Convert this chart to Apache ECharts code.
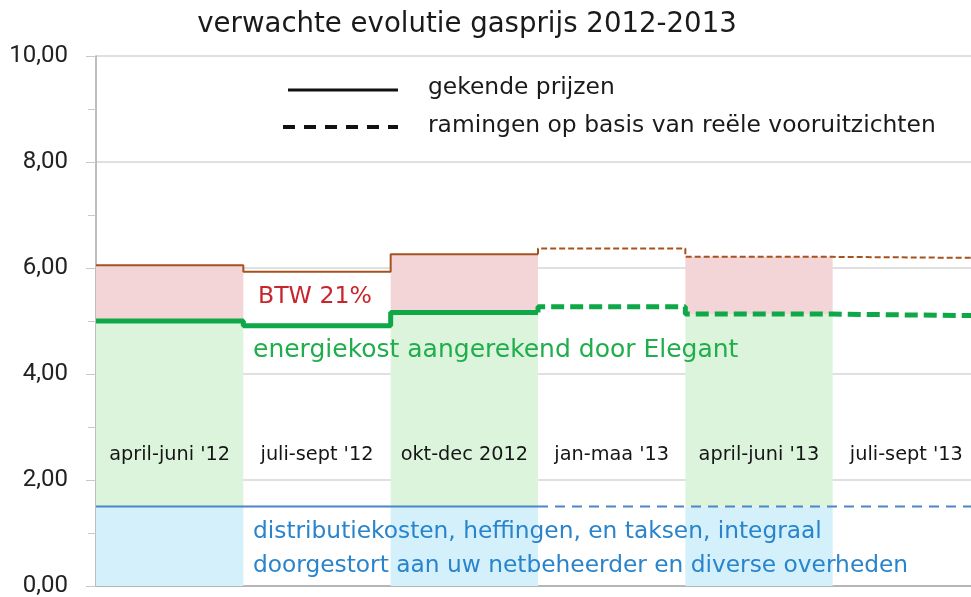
<!DOCTYPE html>
<html>
<head>
<meta charset="utf-8">
<script src="https://cdn.jsdelivr.net/npm/echarts@6/dist/echarts.min.js"></script>
<style>
html,body{margin:0;padding:0;background:#fff;}
#c{width:971px;height:597px;}
</style>
</head>
<body>
<div id="c"></div>
<script>
// ---- data ----
var periods = ["april-juni '12", "juli-sept '12", "okt-dec 2012", "jan-maa '13", "april-juni '13", "juli-sept '13"];
var totalPrice = [6.05, 5.93, 6.26, 6.37, 6.21, 6.19];      // incl. BTW 21%
var energyCost = [5.00, 4.91, 5.16, 5.27, 5.13, 5.10];      // energiekost Elegant
var distCost   = [1.50, 1.50, 1.50, 1.50, 1.50, 1.50];      // distributiekosten e.a.
var knownCount = 3;                                          // first 3 periods known
var shadedPeriods = [0, 2, 4];
var yTicks = [0, 2, 4, 6, 8, 10];

var FONT = '"DejaVu Sans"';
var NUMFONT = 'Roboto';

// font size so that a text gets a given pixel width
var mctx = document.createElement('canvas').getContext('2d');
function fit(text, w, family) {
  mctx.font = '100px ' + (family || FONT);
  return Math.round(100 * w / mctx.measureText(text).width * 10) / 10;
}

function stepPoints(vals, from, to) {
  var pts = [];
  for (var i = from; i < to; i++) {
    pts.push([i, vals[i]]);
    pts.push([i + 1, vals[i]]);
  }
  return pts;
}
function withConnector(vals) {
  var pts = stepPoints(vals, knownCount, vals.length);
  pts.unshift([knownCount, vals[knownCount - 1]]);
  return pts;
}
function shade(fn) {
  return periods.map(function (p, i) {
    return shadedPeriods.indexOf(i) >= 0 ? fn(i) : '-';
  });
}

var chart = echarts.init(document.getElementById('c'), null, {renderer: 'canvas'});

var BROWN = '#a5521f', GREEN = '#0fa848', BLUE = '#4b87c5';

var titleText = 'verwachte evolutie gasprijs 2012-2013';
var legKnown = 'gekende prijzen', legEst = 'ramingen op basis van reële vooruitzichten';
var txtBtw = 'BTW 21%', txtEnergy = 'energiekost aangerekend door Elegant';
var txtDist1 = 'distributiekosten, heffingen, en taksen, integraal';
var txtDist2 = 'doorgestort aan uw netbeheerder en diverse overheden';

var sTitle = fit(titleText, 540);
var sLeg = fit(legEst, 507);
var sEnergy = fit(txtEnergy, 485);
var sBtw = fit(txtBtw, 114);
var sDist = fit(txtDist2, 655);
var sPer = fit(periods[0], 121);

function txt(x, yc, text, size, color, align) {
  return {type: 'text', z: 50, x: x, y: yc,
          style: {text: text, font: size + 'px ' + FONT, fill: color, align: align || 'left',
                  textVerticalAlign: 'middle', verticalAlign: 'middle'}};
}

var option = {
  animation: false,
  textStyle: {fontFamily: FONT},
  grid: {left: 96, top: 56, width: 884, height: 530, outerBoundsMode: 'none', containLabel: false},
  xAxis: [
    {type: 'value', min: 0, max: 6, show: true,
     axisLine: {show: true, onZero: false, lineStyle: {color: '#a8a8a8', width: 1.5}},
     axisTick: {show: false}, axisLabel: {show: false}, splitLine: {show: false}},
    {type: 'category', data: periods, boundaryGap: true, show: false}
  ],
  yAxis: {
    type: 'value', min: 0, max: 10, interval: 2,
    axisLine: {show: true, lineStyle: {color: '#a8a8a8', width: 1.5}},
    axisTick: {show: true, length: 10, lineStyle: {color: '#c8c8c8'}},
    minorTick: {show: true, splitNumber: 2, length: 8, lineStyle: {color: '#c8c8c8'}},
    splitLine: {show: true, lineStyle: {color: '#d6d6d6', width: 1.5}},
    axisLabel: {
      margin: 28, fontFamily: NUMFONT, fontSize: 24, color: '#222',
      formatter: function (v) { return yTicks.indexOf(v) >= 0 ? v.toFixed(2).replace('.', ',') : ''; }
    }
  },
  series: [
    {type: 'bar', xAxisIndex: 1, stack: 's', barWidth: '100%', barGap: '-100%', silent: true,
     itemStyle: {color: '#d3f0fb'}, data: shade(function (i) { return distCost[i]; })},
    {type: 'bar', xAxisIndex: 1, stack: 's', barWidth: '100%', silent: true,
     itemStyle: {color: '#ddf4dc'}, data: shade(function (i) { return +(energyCost[i] - distCost[i]).toFixed(3); })},
    {type: 'bar', xAxisIndex: 1, stack: 's', barWidth: '100%', silent: true,
     itemStyle: {color: '#f4d5d7'}, data: shade(function (i) { return +(totalPrice[i] - energyCost[i]).toFixed(3); })},

    {type: 'line', symbol: 'none', data: stepPoints(distCost, 0, knownCount),
     lineStyle: {color: BLUE, width: 2}},
    {type: 'line', symbol: 'none', data: withConnector(distCost),
     lineStyle: {color: BLUE, width: 2, type: [10, 7]}},
    {type: 'line', symbol: 'none', data: stepPoints(totalPrice, 0, knownCount),
     lineStyle: {color: BROWN, width: 2}},
    {type: 'line', symbol: 'none', data: withConnector(totalPrice),
     lineStyle: {color: BROWN, width: 2, type: [6, 3]}},
    {type: 'line', symbol: 'none', data: stepPoints(energyCost, 0, knownCount),
     lineStyle: {color: GREEN, width: 5}},
    {type: 'line', symbol: 'none', data: withConnector(energyCost),
     lineStyle: {color: GREEN, width: 5, type: [13, 6]}},

    {type: 'scatter', symbolSize: 0, silent: true, z: 20,
     data: periods.map(function (p, i) { return {value: [i + 0.5, 2.47], name: p}; }),
     label: {show: true, position: 'inside', formatter: '{b}', fontFamily: FONT, fontSize: sPer, color: '#151515', opacity: 1}}
  ],
  graphic: [
    txt(467, 25, titleText, sTitle, '#1a1a1a', 'center'),
    {type: 'line', z: 50, shape: {x1: 288, y1: 90, x2: 398, y2: 90}, style: {stroke: '#111', lineWidth: 3}},
    {type: 'line', z: 50, shape: {x1: 283, y1: 127, x2: 398, y2: 127}, style: {stroke: '#111', lineWidth: 4, lineDash: [12, 9]}},
    txt(428, 88, legKnown, sLeg, '#1a1a1a'),
    txt(428, 126, legEst, sLeg, '#1a1a1a'),
    txt(258, 297, txtBtw, sBtw, '#c9252c'),
    txt(253, 350, txtEnergy, sEnergy, '#1fae4b'),
    txt(253, 532, txtDist1, sDist, '#2a84cc'),
    txt(253, 566, txtDist2, sDist, '#2a84cc')
  ]
};
chart.setOption(option);
</script>
</body>
</html>
